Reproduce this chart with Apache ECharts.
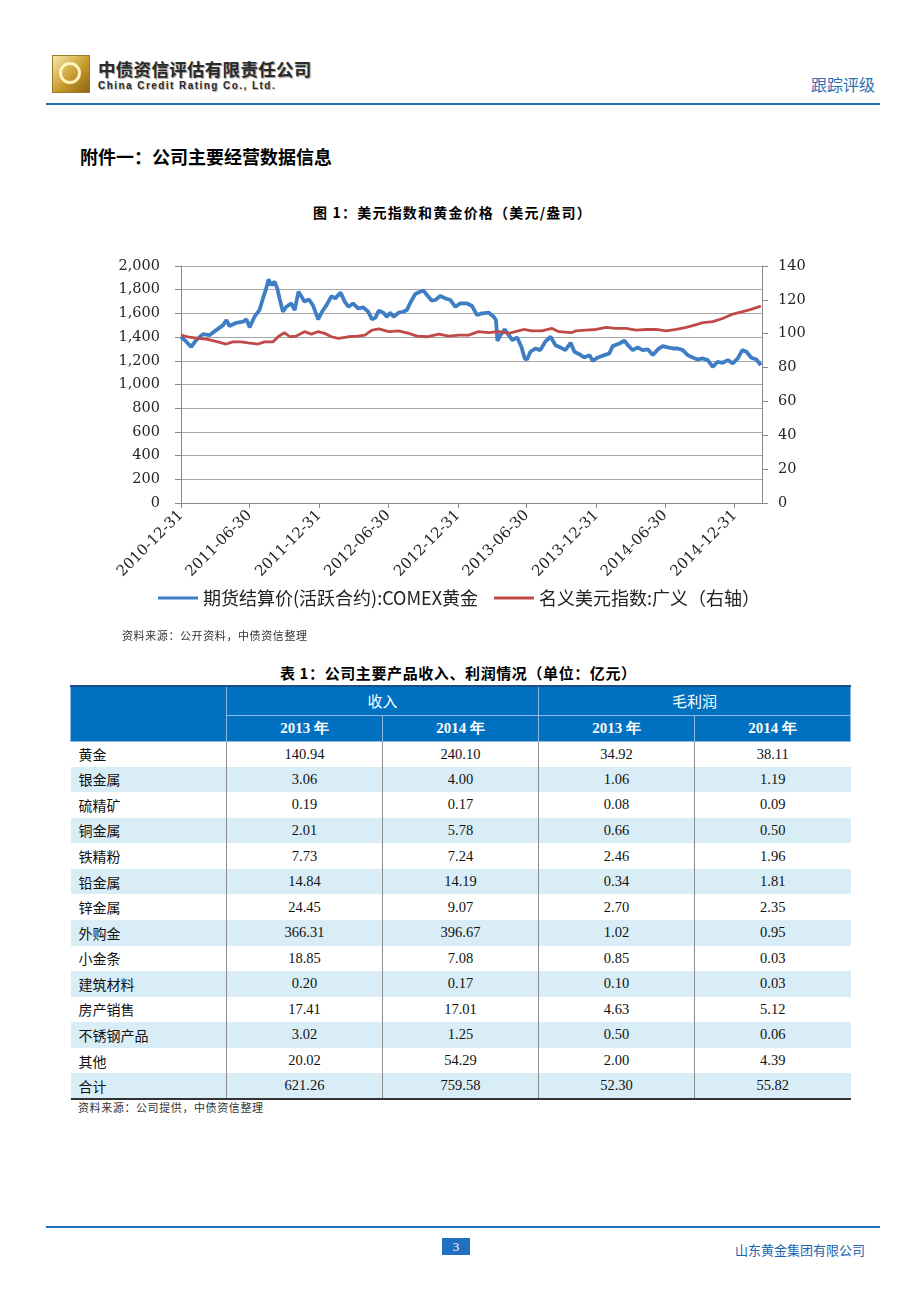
<!DOCTYPE html>
<html><head><meta charset="utf-8">
<script src="https://cdn.jsdelivr.net/npm/echarts@6/dist/echarts.min.js"></script>
<style>
body{margin:0;width:920px;height:1302px;position:relative;background:#fff;font-family:"Noto Sans CJK SC",sans-serif;overflow:hidden;color:#111}
.abs{position:absolute;white-space:nowrap;line-height:1}
#chart{position:absolute;left:0;top:240px;width:920px;height:390px}
table{position:absolute;left:70px;top:685px;width:780px;border-collapse:collapse;table-layout:fixed;border-top:2px solid #1d4f86;border-bottom:2px solid #333}
th{background:#0070C0;color:#fff;font-weight:normal;border:1px solid #8fb8e0;padding:0}
th.yr{font-family:"Liberation Serif",serif;font-weight:bold;font-size:15px}
th.grp{font-size:15px}
td{border-left:1px solid #8c8c8c;border-right:1px solid #8c8c8c;padding:0;text-align:center;font-family:"Liberation Serif",serif;font-size:14.5px;color:#111}
td.lab{text-align:left;padding-left:8px;font-family:"Noto Sans CJK SC",sans-serif;font-size:14px;border-left:none}
td.last{border-right:none}
tr.alt td{background:#D9EDF7}
</style></head><body>
<!-- header -->
<div class="abs" style="left:52px;top:55px;width:36px;height:36px;background:linear-gradient(135deg,#f6e7a8,#c99b2e 55%,#8a6414);border:1px solid #9b7a2a"></div>
<div class="abs" style="left:59px;top:62px;width:22px;height:22px;border-radius:50%;border:3px solid #fff3c0;box-sizing:border-box"></div>
<div class="abs" style="left:98px;top:60px;font-size:17.5px;font-weight:bold;color:#2a2a2a;text-shadow:1px 1px 1px #9a9a9a;letter-spacing:0.3px">中债资信评估有限责任公司</div>
<div class="abs" style="left:98px;top:81px;font-size:10px;font-weight:bold;font-family:'Liberation Sans',Arial,sans-serif;color:#2a2a2a;letter-spacing:1.45px;text-shadow:1px 1px 1px #aaa">China Credit Rating Co., Ltd.</div>
<div class="abs" style="left:811px;top:76px;font-size:16px;color:#2F6EB5">跟踪评级</div>
<div class="abs" style="left:46px;top:103px;width:834px;height:2px;background:#1F6FBA"></div>

<div class="abs" style="left:80px;top:147px;font-size:18px;font-weight:bold;color:#000">附件一：公司主要经营数据信息</div>
<div class="abs" style="left:313px;top:205px;font-size:14px;font-weight:bold;color:#000;letter-spacing:1.2px">图 1：美元指数和黄金价格（美元/盎司）</div>

<div id="chart"></div>

<div class="abs" style="left:122px;top:630px;font-size:11px;color:#333;letter-spacing:0.6px">资料来源：公开资料，中债资信整理</div>
<div class="abs" style="left:280px;top:665px;font-size:15px;font-weight:bold;color:#000;letter-spacing:0.6px">表 1：公司主要产品收入、利润情况（单位：亿元）</div>

<table id="tbl"></table>

<div class="abs" style="left:78px;top:1102px;font-size:11px;color:#333;letter-spacing:0.6px">资料来源：公司提供，中债资信整理</div>

<!-- footer -->
<div class="abs" style="left:46px;top:1226px;width:834px;height:2px;background:#1F6FBA"></div>
<div class="abs" style="left:442px;top:1238px;width:28px;height:17px;background:#1F70C1;color:#fff;font-family:'Liberation Serif',serif;font-size:13px;line-height:17px;text-align:center">3</div>
<div class="abs" style="left:735px;top:1243px;font-size:13px;color:#2063B0">山东黄金集团有限公司</div>

<script>
// ---------- chart data ----------
const goldDates = ['2010-12-31','2011-01-14','2011-01-27','2011-02-09','2011-02-27','2011-03-17','2011-04-03','2011-04-21','2011-04-30','2011-05-08','2011-05-26','2011-06-13','2011-06-22','2011-06-30','2011-07-13','2011-07-26','2011-08-07','2011-08-13','2011-08-19','2011-08-26','2011-09-04','2011-09-11','2011-09-17','2011-09-26','2011-10-05','2011-10-18','2011-10-27','2011-11-06','2011-11-13','2011-11-22','2011-12-03','2011-12-14','2011-12-28','2012-01-07','2012-01-19','2012-02-01','2012-02-11','2012-02-25','2012-03-07','2012-03-17','2012-03-29','2012-04-11','2012-04-25','2012-05-08','2012-05-18','2012-05-27','2012-06-05','2012-06-17','2012-06-26','2012-07-05','2012-07-14','2012-07-27','2012-08-09','2012-08-18','2012-08-27','2012-09-09','2012-09-22','2012-10-01','2012-10-10','2012-10-23','2012-11-01','2012-11-14','2012-11-27','2012-12-11','2012-12-24','2013-01-06','2013-01-24','2013-02-06','2013-02-19','2013-03-04','2013-03-22','2013-04-04','2013-04-10','2013-04-14','2013-04-22','2013-05-03','2013-05-14','2013-05-23','2013-06-05','2013-06-16','2013-06-25','2013-07-01','2013-07-10','2013-07-23','2013-08-05','2013-08-18','2013-09-01','2013-09-14','2013-09-27','2013-10-10','2013-10-24','2013-11-03','2013-11-16','2013-11-29','2013-12-13','2013-12-21','2014-01-04','2014-01-21','2014-02-03','2014-02-12','2014-03-02','2014-03-15','2014-03-24','2014-04-06','2014-04-19','2014-05-02','2014-05-16','2014-05-29','2014-06-11','2014-06-24','2014-07-07','2014-07-21','2014-08-03','2014-08-16','2014-08-29','2014-09-11','2014-09-24','2014-10-08','2014-10-21','2014-11-03','2014-11-16','2014-11-29','2014-12-13','2014-12-26','2015-01-08','2015-01-20','2015-01-31','2015-02-12','2015-02-26','2015-03-10'];
const goldPrice = [1403,1361,1318,1375,1425,1417,1459,1501,1544,1493,1521,1530,1549,1482,1572,1628,1755,1811,1887,1839,1868,1811,1727,1614,1656,1684,1628,1783,1746,1699,1718,1670,1549,1614,1670,1746,1727,1775,1699,1656,1684,1642,1651,1614,1549,1565,1623,1606,1572,1606,1572,1606,1614,1628,1690,1763,1783,1792,1755,1707,1713,1746,1727,1713,1656,1684,1684,1662,1586,1600,1606,1572,1544,1369,1417,1465,1417,1375,1397,1318,1220,1211,1276,1304,1290,1361,1403,1332,1313,1290,1352,1276,1256,1228,1248,1200,1228,1248,1262,1324,1346,1369,1332,1290,1313,1290,1296,1248,1296,1324,1313,1304,1304,1290,1248,1228,1211,1220,1206,1149,1192,1183,1206,1178,1220,1290,1276,1228,1211,1163];
const usdDates = ['2010-12-31','2011-01-18','2011-02-14','2011-03-12','2011-04-07','2011-04-29','2011-05-17','2011-06-08','2011-06-26','2011-07-22','2011-08-09','2011-08-31','2011-09-13','2011-09-30','2011-10-14','2011-10-31','2011-11-22','2011-12-10','2011-12-28','2012-01-14','2012-02-01','2012-02-19','2012-03-16','2012-04-11','2012-04-29','2012-05-18','2012-06-05','2012-07-01','2012-07-27','2012-08-23','2012-09-14','2012-10-10','2012-11-10','2012-12-06','2013-01-02','2013-01-28','2013-02-23','2013-03-22','2013-04-17','2013-05-14','2013-05-31','2013-06-22','2013-07-14','2013-08-09','2013-09-05','2013-09-23','2013-10-26','2013-11-07','2013-12-03','2013-12-30','2014-01-25','2014-02-21','2014-03-19','2014-04-15','2014-05-11','2014-06-07','2014-07-03','2014-07-30','2014-08-25','2014-09-16','2014-10-08','2014-11-03','2014-11-29','2014-12-26','2015-01-21','2015-02-12','2015-03-10'];
const usdIndex = [99.2,98.2,97.2,96.6,95.2,93.9,95.2,95.2,94.6,93.9,95.2,95.2,98.2,100.6,98.2,98.6,101.2,99.8,101.2,100.2,98.2,97.2,98.2,98.6,99.2,102.1,102.8,101.2,101.7,100.2,98.6,98.2,99.8,98.6,99.2,99.2,101.2,100.6,101.2,100.2,101.2,102.5,101.7,101.7,103.1,101.2,100.6,101.7,102.1,102.5,103.7,103.1,103.1,102.1,102.5,102.5,101.7,102.5,103.7,105.1,106.5,107.1,109.0,111.6,113.0,114.4,116.3];
const xTickDates = ['2010-12-31','2011-06-30','2011-12-31','2012-06-30','2012-12-31','2013-06-30','2013-12-31','2014-06-30','2014-12-31'];
const xRange = ['2010-12-31','2015-03-13'];
const seriesNames = ['期货结算价(活跃合约):COMEX黄金','名义美元指数:广义（右轴）'];

// ---------- table data ----------
const products = ['黄金','银金属','硫精矿','铜金属','铁精粉','铅金属','锌金属','外购金','小金条','建筑材料','房产销售','不锈钢产品','其他','合计'];
const revenue2013 = [140.94,3.06,0.19,2.01,7.73,14.84,24.45,366.31,18.85,0.20,17.41,3.02,20.02,621.26];
const revenue2014 = [240.10,4.00,0.17,5.78,7.24,14.19,9.07,396.67,7.08,0.17,17.01,1.25,54.29,759.58];
const profit2013 = [34.92,1.06,0.08,0.66,2.46,0.34,2.70,1.02,0.85,0.10,4.63,0.50,2.00,52.30];
const profit2014 = [38.11,1.19,0.09,0.50,1.96,1.81,2.35,0.95,0.03,0.03,5.12,0.06,4.39,55.82];
const groupHeads = ['收入','毛利润'];
const yearHeads = ['2013 年','2014 年','2013 年','2014 年'];

function ts(s){const p=s.split('-').map(Number);return Date.UTC(p[0],p[1]-1,p[2]);}
function pad(n){return (n<10?'0':'')+n;}
function fmtDate(v){const d=new Date(v);return d.getUTCFullYear()+'-'+pad(d.getUTCMonth()+1)+'-'+pad(d.getUTCDate());}

// ---------- table (built first) ----------
let h='<colgroup>'+'<col style="width:156px">'.repeat(5)+'</colgroup>';
h+='<tr style="height:29px"><th rowspan="2"></th><th colspan="2" class="grp">'+groupHeads[0]+'</th><th colspan="2" class="grp">'+groupHeads[1]+'</th></tr>';
h+='<tr style="height:26px">'+yearHeads.map(y=>'<th class="yr">'+y+'</th>').join('')+'</tr>';
products.forEach((p,i)=>{
  const alt=(i%2===1)||i===products.length-1;
  h+='<tr'+(alt?' class="alt"':'')+' style="height:25.57px"><td class="lab">'+p+'</td><td>'+revenue2013[i].toFixed(2)+'</td><td>'+revenue2014[i].toFixed(2)+'</td><td>'+profit2013[i].toFixed(2)+'</td><td class="last">'+profit2014[i].toFixed(2)+'</td></tr>';
});
document.getElementById('tbl').innerHTML=h;

// ---------- chart ----------
const axisColor='#8a8a8a';
const chart = echarts.init(document.getElementById('chart'),null,{renderer:'canvas'});
chart.setOption({
  animation:false,
  grid:{left:181,right:158,top:26,height:237,containLabel:false},
  legend:{left:153,top:344,itemWidth:40,itemHeight:3,itemGap:16,icon:'rect',
    textStyle:{fontSize:18,fontFamily:'Noto Sans CJK SC',color:'#222'},data:seriesNames},
  xAxis:{type:'value',min:ts(xRange[0]),max:ts(xRange[1]),
    axisLine:{show:true,lineStyle:{color:axisColor}},
    axisTick:{show:true,customValues:xTickDates.map(ts),length:5,lineStyle:{color:axisColor}},
    axisLabel:{customValues:xTickDates.map(ts),rotate:45,margin:10,formatter:fmtDate,
      fontFamily:'DejaVu Serif',fontSize:15,color:'#262626'},
    splitLine:{show:false}},
  yAxis:[
    {type:'value',min:0,max:2000,interval:200,position:'left',
     axisLine:{show:true,lineStyle:{color:axisColor}},
     axisTick:{show:true,length:6,lineStyle:{color:axisColor}},
     axisLabel:{margin:21,fontFamily:'DejaVu Serif',fontSize:14.5,color:'#262626',
       formatter:v=>v.toLocaleString('en-US')},
     splitLine:{show:true,lineStyle:{color:'#a6a6a6',width:1}}},
    {type:'value',min:0,max:140,interval:20,position:'right',
     axisLine:{show:true,lineStyle:{color:axisColor}},
     axisTick:{show:true,length:6,lineStyle:{color:axisColor}},
     axisLabel:{margin:16,fontFamily:'DejaVu Serif',fontSize:14.5,color:'#262626'},
     splitLine:{show:false}}
  ],
  series:[
    {name:seriesNames[0],type:'line',yAxisIndex:0,showSymbol:false,symbol:'none',
     color:'#3F7DC4',lineStyle:{width:3.8,color:'#3F7DC4'},
     data:goldDates.map((d,i)=>[ts(d),goldPrice[i]])},
    {name:seriesNames[1],type:'line',yAxisIndex:1,showSymbol:false,symbol:'none',
     color:'#BF4A47',lineStyle:{width:2.8,color:'#BF4A47'},
     data:usdDates.map((d,i)=>[ts(d),usdIndex[i]])}
  ]
});
</script>
</body></html>
